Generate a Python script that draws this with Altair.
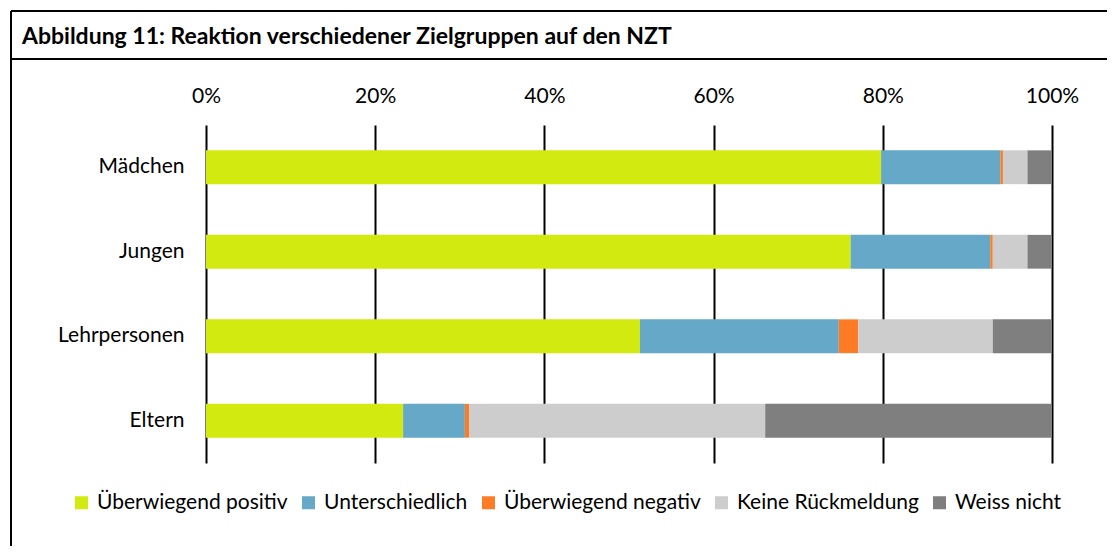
import altair as alt
import pandas as pd

categories = ["Mädchen", "Jungen", "Lehrpersonen", "Eltern"]
series = ["Überwiegend positiv", "Unterschiedlich", "Überwiegend negativ", "Keine Rückmeldung", "Weiss nicht"]
colors = ["#D3EA10", "#65A8C8", "#FC7B24", "#CDCDCD", "#7F7F7F"]

positiv = [79.8, 76.2, 51.3, 23.3]
unterschiedlich = [14.1, 16.5, 23.5, 7.3]
negativ = [0.3, 0.3, 2.3, 0.5]
keine = [2.9, 4.1, 15.9, 35.0]
weiss = [2.9, 2.9, 7.0, 33.9]

ticks = [0, 20, 40, 60, 80, 100]

vals = [positiv, unterschiedlich, negativ, keine, weiss]
rows = []
for si, (s, v) in enumerate(zip(series, vals)):
    for c, x in zip(categories, v):
        rows.append({"Gruppe": c, "Reaktion": s, "Anteil": x, "ord": si})
df = pd.DataFrame(rows)

W, H = 846, 338
PL, PT = 198, 117
FONT = "Lato"

bars = alt.Chart(df).mark_bar().encode(
    y=alt.Y("Gruppe:N", sort=categories, title=None,
            scale=alt.Scale(paddingInner=0.6, paddingOuter=0.3),
            axis=alt.Axis(domain=False, ticks=False, labelPadding=22, labelFontSize=21,
                          labelFont=FONT, labelColor="#000", grid=False)),
    x=alt.X("sum(Anteil):Q", stack="zero", title=None,
            scale=alt.Scale(domain=[0, 100], nice=False),
            axis=alt.Axis(orient="top", values=ticks, labelExpr="datum.value + '%'",
                          domain=False, ticks=False, grid=True, gridColor="#000",
                          gridWidth=2, gridOpacity=1, labelPadding=19, labelFontSize=21,
                          labelFlush=False,
                          labelFont=FONT, labelColor="#000")),
    color=alt.Color("Reaktion:N", sort=series,
                    scale=alt.Scale(domain=series, range=colors),
                    legend=alt.Legend(title=None, orient="none", legendX=-135, legendY=367,
                                      direction="horizontal", symbolType="square",
                                      symbolSize=169, symbolStrokeWidth=0, labelFontSize=21,
                                      labelFont=FONT, labelColor="#000", columnPadding=10,
                                      labelOffset=5, columns=5, labelLimit=0)),
    order=alt.Order("ord:Q"),
)

frame_data = alt.Data(values=[{"k": 1}])
top_line = alt.Chart(frame_data).mark_rule(color="#000", strokeWidth=2).encode(
    x=alt.value(-195), x2=alt.value(W + 60), y=alt.value(-114))
sep_line = alt.Chart(frame_data).mark_rule(color="#000", strokeWidth=2).encode(
    x=alt.value(-195), x2=alt.value(W + 60), y=alt.value(-66))
left_line = alt.Chart(frame_data).mark_rule(color="#000", strokeWidth=2).encode(
    x=alt.value(-195), y=alt.value(-114), y2=alt.value(H + 120))

chart = alt.layer(bars, top_line, sep_line, left_line).properties(
    width=W, height=H,
    autosize=alt.AutoSizeParams(type="none"),
    padding={"left": PL, "top": PT, "right": 55, "bottom": 83},
    title=alt.TitleParams("Abbildung 11: Reaktion verschiedener Zielgruppen auf den NZT",
                          anchor="start", frame="group", font=FONT, fontSize=23,
                          fontWeight="bold", color="#000", dx=-184, dy=43),
).configure_view(stroke=None)

chart.save("out.html", embed_options={"renderer": "svg", "actions": False})
